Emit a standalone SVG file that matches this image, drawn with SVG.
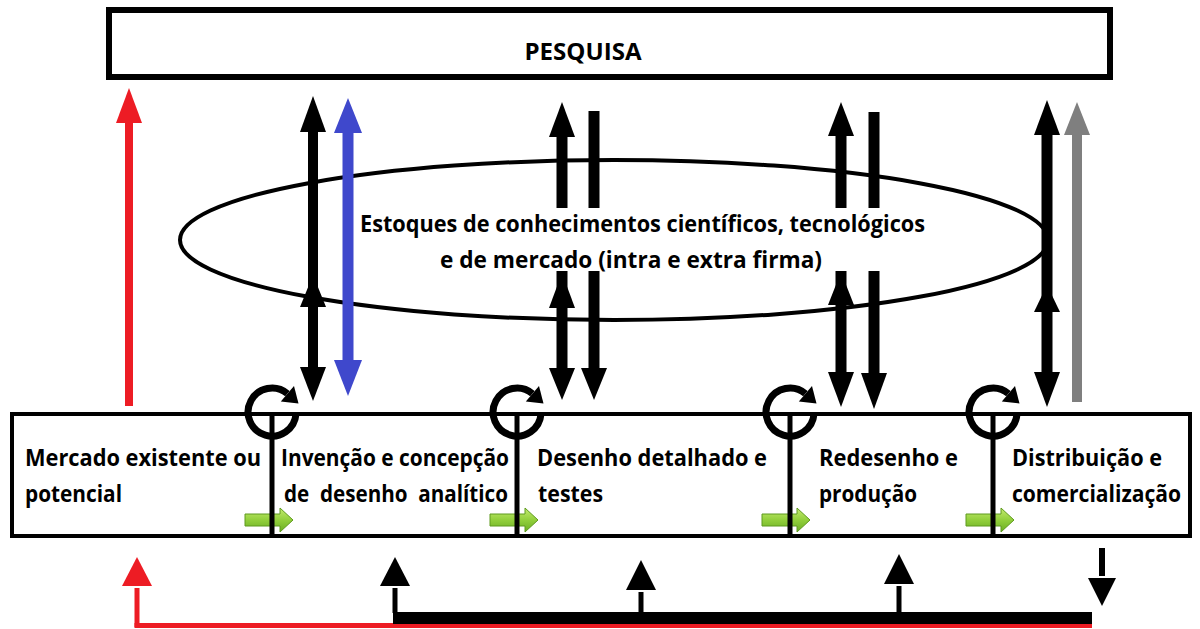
<svg xmlns="http://www.w3.org/2000/svg" width="1200" height="629" viewBox="0 0 1200 629">
<style>
  .box { fill: #ffffff; stroke: #000000; }
  .t { font-family: "Open Sans", "Liberation Sans", sans-serif; font-weight: 700; font-size: 24px; fill: #000000; }
  .hb { fill: #000000; }
  .hr { fill: #ED1C24; }
  .hbl { fill: #3F48CC; }
  .hg { fill: #7F7F7F; }
</style>
<defs>
  <linearGradient id="gg" x1="0" y1="0" x2="0" y2="1">
    <stop offset="0" stop-color="#C4EB6E"/>
    <stop offset="0.5" stop-color="#92CF3C"/>
    <stop offset="1" stop-color="#6AAE22"/>
  </linearGradient>
  <g id="cycle">
    <path d="M 24 2 A 24 24 0 1 1 15.4 -18.4" fill="none" stroke="#000" stroke-width="7"/>
    <polygon points="22,-26 8.8,-10.6 26.5,-8.5" fill="#000"/>
  </g>
  <g id="garrow">
    <polygon points="0,-6 35,-6 35,-12 48,0 35,12 35,6 0,6" fill="url(#gg)" stroke="#5E9A1E" stroke-width="1"/>
  </g>
</defs>

<rect width="1200" height="629" fill="#ffffff"/>

<!-- PESQUISA -->
<g id="pesquisa">
  <rect class="box" x="109" y="10" width="1001" height="67" stroke-width="6"/>
  <text class="t" x="583" y="60" text-anchor="middle" font-size="26" textLength="117" lengthAdjust="spacingAndGlyphs">PESQUISA</text>
</g>

<!-- Knowledge stock ellipse -->
<g id="estoques-ellipse">
  <ellipse cx="614" cy="240" rx="434" ry="80" fill="none" stroke="#000" stroke-width="4"/>
</g>

<!-- Connectors -->
<g id="connectors">
  <!-- red arrow from market to research -->
  <line x1="129" y1="406" x2="129" y2="118" stroke="#ED1C24" stroke-width="8"/>
  <polygon class="hr" points="129,88 142,123 116,123"/>

  <!-- column 1 black double arrow -->
  <line x1="313" y1="128" x2="313" y2="372" stroke="#000" stroke-width="10"/>
  <polygon class="hb" points="313,96 326,132 300,132"/>
  <polygon class="hb" points="313,275 326,307 300,307"/>
  <polygon class="hb" points="313,401 326,367 300,367"/>

  <!-- blue double arrow -->
  <line x1="348" y1="128" x2="348" y2="364" stroke="#3F48CC" stroke-width="11"/>
  <polygon class="hbl" points="348,98 362,133 334,133"/>
  <polygon class="hbl" points="348,396 362,360 334,360"/>

  <!-- column 2 -->
  <line x1="562" y1="132" x2="562" y2="372" stroke="#000" stroke-width="11"/>
  <polygon class="hb" points="562,102 575,137 549,137"/>
  <polygon class="hb" points="562,273 575,308 549,308"/>
  <polygon class="hb" points="562,400 575,368 549,368"/>
  <line x1="594" y1="111" x2="594" y2="372" stroke="#000" stroke-width="11"/>
  <polygon class="hb" points="594,400 607,368 581,368"/>

  <!-- column 3 -->
  <line x1="841" y1="132" x2="841" y2="376" stroke="#000" stroke-width="11"/>
  <polygon class="hb" points="841,102 854,136 828,136"/>
  <polygon class="hb" points="841,272 854,305 828,305"/>
  <polygon class="hb" points="841,407 854,372 828,372"/>
  <line x1="874" y1="112" x2="874" y2="376" stroke="#000" stroke-width="11"/>
  <polygon class="hb" points="874,409 887,373 861,373"/>

  <!-- column 4 -->
  <line x1="1047" y1="130" x2="1047" y2="376" stroke="#000" stroke-width="11"/>
  <polygon class="hb" points="1047,100 1060,135 1034,135"/>
  <polygon class="hb" points="1047,285 1060,312 1034,312"/>
  <polygon class="hb" points="1047,407 1060,372 1034,372"/>
  <line x1="1077" y1="130" x2="1077" y2="402" stroke="#7F7F7F" stroke-width="10"/>
  <polygon class="hg" points="1077,102 1090,135 1064,135"/>

  <!-- bottom feedback lines -->
  <polygon class="hr" points="137,557 152,586 122,586"/>
  <line x1="137" y1="588" x2="137" y2="627" stroke="#ED1C24" stroke-width="5"/>
  <line x1="134.5" y1="625.5" x2="1092" y2="625.5" stroke="#ED1C24" stroke-width="5"/>
  <rect x="393" y="612" width="699" height="12" fill="#000"/>
  <polygon class="hb" points="395,557 410,586 380,586"/>
  <line x1="395" y1="588" x2="395" y2="613" stroke="#000" stroke-width="5"/>
  <polygon class="hb" points="641,560 656,590 626,590"/>
  <line x1="641" y1="592" x2="641" y2="613" stroke="#000" stroke-width="5"/>
  <polygon class="hb" points="899,554 914,584 884,584"/>
  <line x1="899" y1="586" x2="899" y2="613" stroke="#000" stroke-width="5"/>
  <line x1="1102" y1="548" x2="1102" y2="576" stroke="#000" stroke-width="6"/>
  <polygon class="hb" points="1088,578 1116,578 1102,606"/>
</g>

<!-- Ellipse text (with white background) -->
<g id="estoques-text">
  <rect x="356" y="208" width="574" height="63" fill="#ffffff"/>
  <text class="t" x="360" y="232" textLength="565" lengthAdjust="spacingAndGlyphs">Estoques de conhecimentos científicos, tecnológicos</text>
  <text class="t" x="440" y="268" textLength="382" lengthAdjust="spacingAndGlyphs">e de mercado (intra e extra firma)</text>
</g>

<!-- Process chain box -->
<g id="process-box">
  <rect class="box" x="12" y="414" width="1178" height="122" stroke-width="4"/>
</g>

<g id="green-arrows">
  <use href="#garrow" x="245" y="520"/>
  <use href="#garrow" x="490" y="520"/>
  <use href="#garrow" x="762" y="520"/>
  <use href="#garrow" x="966" y="520"/>
</g>

<g id="stage-dividers">
  <line x1="272" y1="412" x2="272" y2="537" stroke="#000" stroke-width="5"/>
  <line x1="517" y1="412" x2="517" y2="537" stroke="#000" stroke-width="5"/>
  <line x1="790" y1="412" x2="790" y2="537" stroke="#000" stroke-width="5"/>
  <line x1="993" y1="412" x2="993" y2="537" stroke="#000" stroke-width="5"/>
  <use href="#cycle" x="272" y="412"/>
  <use href="#cycle" x="517" y="412"/>
  <use href="#cycle" x="790" y="412"/>
  <use href="#cycle" x="993" y="412"/>
</g>

<g id="mercado">
  <text class="t" x="25" y="466" textLength="236" lengthAdjust="spacingAndGlyphs">Mercado existente ou</text>
  <text class="t" x="25" y="502" textLength="97" lengthAdjust="spacingAndGlyphs">potencial</text>
</g>
<g id="invencao">
  <text class="t" x="281" y="466" textLength="228" lengthAdjust="spacingAndGlyphs">Invenção e concepção</text>
  <text class="t" x="284" y="502" textLength="224" lengthAdjust="spacingAndGlyphs" xml:space="preserve">de  desenho  analítico</text>
</g>
<g id="desenho">
  <text class="t" x="537" y="466" textLength="230" lengthAdjust="spacingAndGlyphs">Desenho detalhado e</text>
  <text class="t" x="538" y="502" textLength="65" lengthAdjust="spacingAndGlyphs">testes</text>
</g>
<g id="redesenho">
  <text class="t" x="819" y="466" textLength="139" lengthAdjust="spacingAndGlyphs">Redesenho e</text>
  <text class="t" x="819" y="502" textLength="98" lengthAdjust="spacingAndGlyphs">produção</text>
</g>
<g id="distribuicao">
  <text class="t" x="1012" y="466" textLength="150" lengthAdjust="spacingAndGlyphs">Distribuição e</text>
  <text class="t" x="1012" y="502" font-size="23" textLength="169" lengthAdjust="spacingAndGlyphs">comercialização</text>
</g>
</svg>
